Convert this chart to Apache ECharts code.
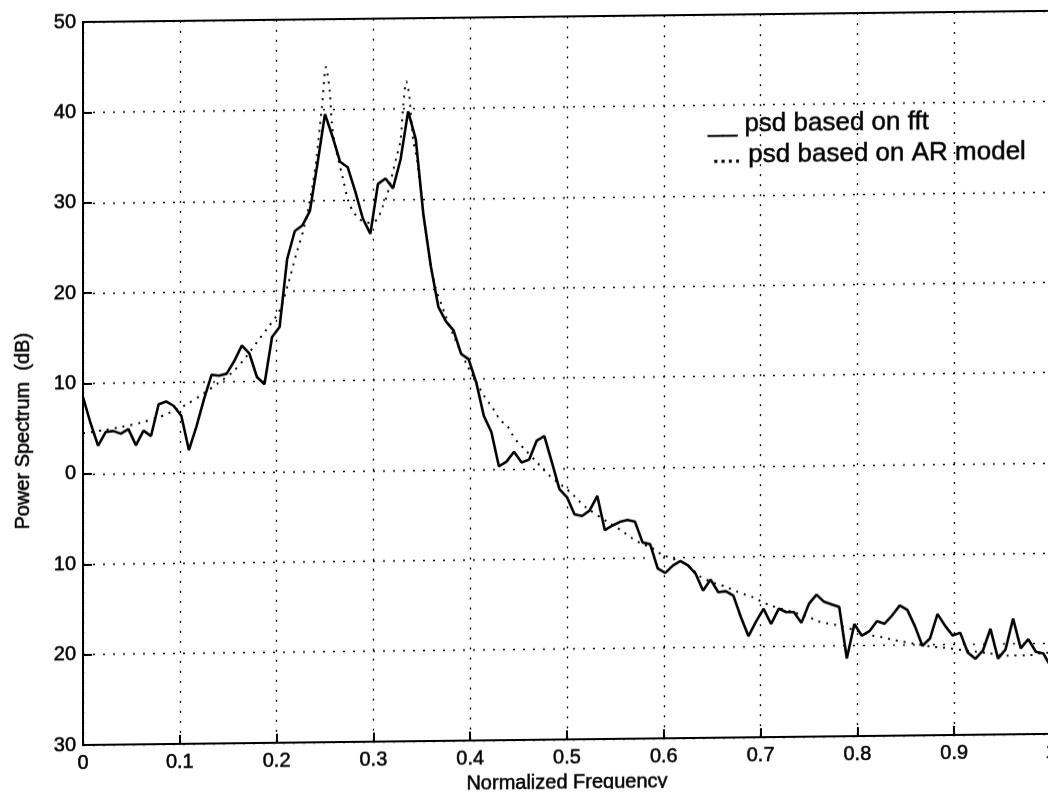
<!DOCTYPE html>
<html>
<head>
<meta charset="utf-8">
<script src="https://cdn.jsdelivr.net/npm/echarts@6/dist/echarts.min.js"></script>
<style>
  html, body { margin: 0; padding: 0; background: #fff; overflow: hidden; }
  #chart { width: 1048px; height: 795px; transform: skewY(-0.66deg); transform-origin: 83px 0; }
</style>
</head>
<body>
<div id="chart"></div>
<script>
// x tick labels (normalized frequency) and y tick values
const xTicks = [0, 0.1, 0.2, 0.3, 0.4, 0.5, 0.6, 0.7, 0.8, 0.9, 1];
const yTicks = [-30, -20, -10, 0, 10, 20, 30, 40, 50];

// PSD based on FFT: frequency bins (k/128) and power (dB)
const fftFreq = [0, 0.0078, 0.0156, 0.0234, 0.0313, 0.0391, 0.0469, 0.0547, 0.0625, 0.0703,
  0.0781, 0.0859, 0.0938, 0.1016, 0.1094, 0.1172, 0.125, 0.1328, 0.1406, 0.1484,
  0.1563, 0.1641, 0.1719, 0.1797, 0.1875, 0.1953, 0.2031, 0.2109, 0.2188, 0.2266,
  0.2344, 0.2422, 0.25, 0.2578, 0.2656, 0.2734, 0.2813, 0.2891, 0.2969, 0.3047,
  0.3125, 0.3203, 0.3281, 0.3359, 0.3438, 0.3516, 0.3594, 0.3672, 0.375, 0.3828,
  0.3906, 0.3984, 0.4063, 0.4141, 0.4219, 0.4297, 0.4375, 0.4453, 0.4531, 0.4609,
  0.4688, 0.4766, 0.4844, 0.4922, 0.5, 0.5078, 0.5156, 0.5234, 0.5313, 0.5391,
  0.5469, 0.5547, 0.5625, 0.5703, 0.5781, 0.5859, 0.5938, 0.6016, 0.6094, 0.6172,
  0.625, 0.6328, 0.6406, 0.6484, 0.6563, 0.6641, 0.6719, 0.6797, 0.6875, 0.6953,
  0.7031, 0.7109, 0.7188, 0.7266, 0.7344, 0.7422, 0.75, 0.7578, 0.7656, 0.7734,
  0.7813, 0.7891, 0.7969, 0.8047, 0.8125, 0.8203, 0.8281, 0.8359, 0.8438, 0.8516,
  0.8594, 0.8672, 0.875, 0.8828, 0.8906, 0.8984, 0.9063, 0.9141, 0.9219, 0.9297,
  0.9375, 0.9453, 0.9531, 0.9609, 0.9688, 0.9766, 0.9844, 0.9922, 1];
const fftPower = [8.5, 5.6, 3.1, 4.6, 4.7, 4.4, 4.9, 3.1, 4.7, 4.1,
  7.6, 7.9, 7.4, 6.3, 2.5, 5.1, 8.1, 10.8, 10.7, 10.9,
  12.3, 14.0, 13.1, 10.5, 9.7, 14.9, 16.0, 23.5, 26.6, 27.2,
  28.8, 34.0, 39.5, 37.0, 34.2, 33.6, 30.9, 27.9, 26.2, 31.7,
  32.3, 31.2, 34.4, 39.7, 36.6, 28.3, 22.5, 18.0, 16.4, 15.4,
  12.8, 12.2, 9.6, 5.9, 4.1, 0.3, 0.8, 1.9, 0.7, 1.0,
  3.1, 3.6, 0.7, -2.3, -3.2, -5.1, -5.3, -4.7, -3.1, -6.9,
  -6.4, -6.0, -5.8, -6.0, -8.3, -8.5, -11.2, -11.7, -10.9, -10.4,
  -10.9, -11.8, -13.7, -12.5, -13.9, -13.8, -14.3, -16.7, -18.8, -17.2,
  -15.8, -17.5, -15.8, -16.2, -16.2, -17.4, -15.3, -14.3, -15.1, -15.4,
  -15.7, -21.4, -17.6, -18.9, -18.4, -17.3, -17.6, -16.7, -15.6, -16.1,
  -17.9, -20.1, -19.3, -16.6, -17.9, -19.0, -18.7, -20.9, -21.6, -20.7,
  -18.3, -21.6, -20.6, -17.2, -20.5, -19.5, -20.9, -21.1, -22.6];

// PSD based on AR model: frequency and power (dB)
const arFreq = [0, 0.021, 0.040, 0.060, 0.079, 0.088, 0.106, 0.124, 0.140, 0.155,
  0.169, 0.180, 0.190, 0.203, 0.212, 0.221, 0.229, 0.237, 0.241, 0.247,
  0.251, 0.255, 0.257, 0.260, 0.268, 0.274, 0.279, 0.286, 0.292, 0.297,
  0.304, 0.310, 0.314, 0.324, 0.328, 0.331, 0.334, 0.337, 0.341, 0.345,
  0.350, 0.357, 0.364, 0.371, 0.374, 0.385, 0.397, 0.415, 0.421, 0.426,
  0.431, 0.438, 0.443, 0.448, 0.455, 0.469, 0.474, 0.482, 0.496, 0.505,
  0.512, 0.519, 0.542, 0.550, 0.558, 0.567, 0.578, 0.586, 0.594, 0.601,
  0.624, 0.637, 0.655, 0.664, 0.674, 0.684, 0.692, 0.701, 0.712, 0.749,
  0.758, 0.769, 0.779, 0.798, 0.816, 0.826, 0.837, 0.846, 0.856, 0.877,
  0.887, 0.935, 0.956, 0.976, 0.987, 1.0];
const arPower = [4.5, 4.8, 5.15, 5.6, 6.2, 6.6, 7.5, 8.7, 9.9, 11.1,
  12.8, 14.4, 15.8, 17.8, 20.8, 24.3, 27.2, 31.5, 34.5, 40.5,
  44.7, 41.9, 38.6, 36.2, 32.6, 29.9, 28.7, 27.8, 27.5, 27.4,
  27.8, 29.3, 30.4, 34.7, 36.5, 40.5, 43.0, 41.5, 36.6, 34.4,
  30.0, 24.0, 20.2, 18.1, 17.2, 14.3, 11.5, 8.0, 7.1, 6.3,
  5.4, 4.8, 3.9, 3.1, 2.3, 0.7, 0.1, -0.8, -2.0, -2.8,
  -3.6, -4.3, -6.0, -6.5, -7.1, -7.8, -8.5, -8.8, -9.4, -9.8,
  -10.8, -12.1, -13.0, -13.3, -13.8, -14.2, -14.5, -15.0, -15.5, -16.7,
  -17.2, -17.5, -17.7, -18.3, -18.9, -19.1, -19.4, -19.6, -19.8, -20.2,
  -20.3, -21.0, -21.3, -21.3, -21.1, -21.0];

const legendLabels = ['__ psd based on fft', '.... psd based on AR model'];
const xName = 'Normalized Frequency';
const yName = 'Power Spectrum  (dB)';

const FONT = '"Liberation Sans", Arial, Helvetica, sans-serif';
const ink = { textBorderColor: '#000', textBorderWidth: 0.5 };
const chart = echarts.init(document.getElementById('chart'), null, { renderer: 'canvas' });

const dotted = { color: '#000', width: 1.3, type: [2, 8] };

chart.setOption({
  animation: false,
  backgroundColor: '#fff',
  grid: {
    left: 83, right: -3, top: 22, bottom: 50,
    containLabel: false, outerBoundsMode: 'none',
    show: true, borderColor: '#000', borderWidth: 2, backgroundColor: 'transparent'
  },
  xAxis: {
    type: 'value',
    min: xTicks[0], max: xTicks[xTicks.length - 1], interval: 0.1,
    name: xName, nameLocation: 'middle', nameGap: 32,
    nameTextStyle: Object.assign({ color: '#000', fontSize: 20, fontFamily: FONT }, ink),
    axisLine: { show: true, onZero: false, lineStyle: { color: '#000', width: 2 } },
    axisTick: { show: true, inside: true, length: 9, lineStyle: { color: '#000', width: 2 } },
    axisLabel: Object.assign({
      color: '#000', fontSize: 20, fontFamily: FONT, margin: 8,
      showMaxLabel: true, showMinLabel: true,
      formatter: v => (xTicks.indexOf(Math.round(v * 10) / 10) >= 0 ? String(Math.round(v * 10) / 10) : '')
    }, ink),
    splitLine: { show: true, lineStyle: dotted }
  },
  yAxis: {
    type: 'value',
    min: yTicks[0], max: yTicks[yTicks.length - 1], interval: 10,
    name: yName, nameLocation: 'middle', nameGap: 50, nameRotate: 90,
    nameTextStyle: Object.assign({ color: '#000', fontSize: 20, fontFamily: FONT, padding: [0, 94, 0, 0] }, ink),
    axisLine: { show: true, onZero: false, lineStyle: { color: '#000', width: 2 } },
    axisTick: { show: true, inside: true, length: 9, lineStyle: { color: '#000', width: 2 } },
    axisLabel: Object.assign({
      color: '#000', fontSize: 20, fontFamily: FONT, margin: 7,
      formatter: v => String(Math.abs(v))
    }, ink),
    splitLine: { show: true, lineStyle: dotted }
  },
  graphic: [
    { type: 'text', left: 708, top: 119, style: { text: legendLabels[0], fill: '#000', font: '26px ' + FONT, stroke: '#000', lineWidth: 0.5 } },
    { type: 'text', left: 712, top: 150, style: { text: legendLabels[1], fill: '#000', font: '26px ' + FONT, stroke: '#000', lineWidth: 0.5 } }
  ],
  series: [
    {
      name: 'psd based on AR model',
      type: 'line',
      data: arFreq.map((f, i) => [f, arPower[i]]),
      showSymbol: false,
      smooth: 0.3,
      lineStyle: { color: '#000', width: 2, type: [2, 6] },
      z: 2
    },
    {
      name: 'psd based on fft',
      type: 'line',
      data: fftFreq.map((f, i) => [f, fftPower[i]]),
      showSymbol: false,
      lineStyle: { color: '#000', width: 2.6 },
      z: 3
    }
  ]
});
</script>
</body>
</html>
